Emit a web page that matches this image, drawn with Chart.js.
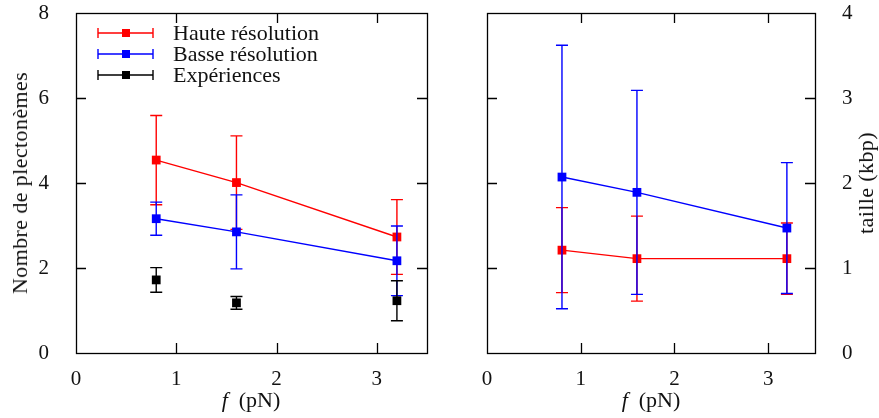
<!DOCTYPE html>
<html><head><meta charset="utf-8">
<script src="https://cdn.jsdelivr.net/npm/chart.js@4/dist/chart.umd.min.js"></script>
<style>
html,body{margin:0;padding:0;background:#fff;}
#wrap{position:relative;width:879px;height:418px;overflow:hidden;font-family:"Liberation Serif",serif;color:#111;}
canvas{position:absolute;top:0;}
.t{position:absolute;font-size:22px;white-space:nowrap;line-height:1;transform:translate(-50%,-50%);}
.r{transform:translate(-50%,-50%) rotate(-90deg);letter-spacing:0.4px;}
</style></head><body>
<div id="wrap">
<canvas id="c1" width="445" height="418" style="left:0;width:445px;height:418px"></canvas>
<canvas id="c2" width="434" height="418" style="left:445px;width:434px;height:418px"></canvas>
<div class="t r" style="left:20px;top:183px">Nombre de plectonèmes</div>
<div class="t" style="left:251px;top:400px"><i>f</i>&nbsp;&nbsp;(pN)</div>
<div class="t" style="left:651px;top:400px"><i>f</i>&nbsp;&nbsp;(pN)</div>
<div class="t r" style="left:866px;top:183px">taille (kbp)</div>
</div>
<script>
// ---- data ----
const forces = [0.8, 1.6, 3.2];
const seriesLabels = ['Haute résolution', 'Basse résolution', 'Expériences'];
// left panel: number of plectonemes
const hauteCount = [4.54, 4.01, 2.73];
const hauteCountErr = [1.05, 1.10, 0.88];
const basseCount = [3.16, 2.85, 2.17];
const basseCountErr = [0.39, 0.87, 0.82];
const expCount = [1.72, 1.18, 1.23];
const expCountErr = [0.29, 0.15, 0.47];
// right panel: size (kbp)
const hauteSize = [1.21, 1.11, 1.11];
const hauteSizeErr = [0.50, 0.50, 0.42];
const basseSize = [2.07, 1.89, 1.47];
const basseSizeErr = [1.55, 1.20, 0.77];
// axis ranges / ticks
const xRange = [0, 3.5];
const countRange = [0, 8];
const sizeRange = [0, 4];

const RED = '#ff0000', BLUE = '#0000ff', BLACK = '#000000';
const FONT = '"Liberation Serif", serif';
const TXT = '#111';

function pts(ys){ return forces.map((x,i)=>({x:x, y:ys[i]})); }
function ds(label, ys, errs, color, order, showLine){
  return {label, data: pts(ys), errors: errs, borderColor: color, backgroundColor: color,
    pointBackgroundColor: color, pointBorderColor: color, pointStyle: 'rect', pointRadius: 6.2,
    pointBorderWidth: 0, borderWidth: 1.4, showLine: showLine, order: order, tension: 0};
}

const errorBars = {
  id: 'errorBars',
  afterDatasetDraw(chart, args){
    const d = chart.data.datasets[args.index];
    if(!d.errors) return;
    const meta = args.meta, ctx = chart.ctx;
    const xs = chart.scales[meta.xAxisID], ys = chart.scales[meta.yAxisID];
    ctx.save();
    ctx.strokeStyle = d.borderColor; ctx.lineWidth = 1.4;
    ctx.beginPath();
    d.data.forEach((p,i)=>{
      const e = d.errors[i];
      const px = xs.getPixelForValue(p.x);
      const y1 = ys.getPixelForValue(p.y + e), y2 = ys.getPixelForValue(p.y - e);
      ctx.moveTo(px, y1); ctx.lineTo(px, y2);
      ctx.moveTo(px-6, y1); ctx.lineTo(px+6, y1);
      ctx.moveTo(px-6, y2); ctx.lineTo(px+6, y2);
    });
    ctx.stroke();
    ctx.restore();
  }
};

const frameTicks = {
  id: 'frameTicks',
  afterDraw(chart){
    const {ctx, chartArea: a, scales} = chart;
    const xs = scales.x, ys = scales.y;
    const L = 10;
    ctx.save();
    ctx.strokeStyle = '#000'; ctx.lineWidth = 1.3;
    ctx.beginPath();
    xs.ticks.forEach(t=>{
      if(t.value <= xs.min || t.value >= xs.max) return;
      const px = Math.round(xs.getPixelForValue(t.value)) + 0.5;
      ctx.moveTo(px, a.bottom); ctx.lineTo(px, a.bottom - L);
      ctx.moveTo(px, a.top); ctx.lineTo(px, a.top + L);
    });
    ys.ticks.forEach(t=>{
      if(t.value <= ys.min || t.value >= ys.max) return;
      const py = Math.round(ys.getPixelForValue(t.value)) + 0.5;
      ctx.moveTo(a.left, py); ctx.lineTo(a.left + L, py);
      ctx.moveTo(a.right, py); ctx.lineTo(a.right - L, py);
    });
    ctx.stroke();
    ctx.strokeRect(Math.round(a.left)+0.5, Math.round(a.top)+0.5, Math.round(a.right-a.left), Math.round(a.bottom-a.top));
    ctx.restore();
  }
};

const customLegend = {
  id: 'customLegend',
  afterDraw(chart){
    const {ctx, chartArea: a} = chart;
    ctx.save();
    ctx.font = '22px ' + FONT;
    ctx.textBaseline = 'middle';
    chart.data.datasets.forEach((d,i)=>{
      const y = a.top + 20 + i*21;
      const x0 = a.left + 22, x1 = a.left + 77, xm = a.left + 50;
      ctx.strokeStyle = d.borderColor; ctx.lineWidth = 1.4;
      ctx.beginPath();
      ctx.moveTo(x0, y); ctx.lineTo(x1, y);
      ctx.moveTo(x0, y-5); ctx.lineTo(x0, y+5);
      ctx.moveTo(x1, y-5); ctx.lineTo(x1, y+5);
      ctx.stroke();
      ctx.fillStyle = d.borderColor;
      ctx.fillRect(xm-4, y-4, 8, 8);
      ctx.fillStyle = TXT;
      ctx.fillText(d.label, a.left + 97, y + 1);
    });
    ctx.restore();
  }
};

function noPad(s){ s.paddingTop = 0; s.paddingBottom = 0; s.paddingLeft = 0; s.paddingRight = 0; }

function xAxis(){
  return {type:'linear', min:xRange[0], max:xRange[1],
    grid:{display:false}, border:{display:false},
    ticks:{stepSize:1, includeBounds:false, color:TXT, padding:6, font:{family:FONT, size:21}, maxRotation:0},
    afterFit(s){ s.height = 65; noPad(s); }};
}

Chart.defaults.animation = false;

new Chart(document.getElementById('c1'), {
  type: 'line',
  data: { datasets: [
    ds(seriesLabels[0], hauteCount, hauteCountErr, RED, 3, true),
    ds(seriesLabels[1], basseCount, basseCountErr, BLUE, 2, true),
    ds(seriesLabels[2], expCount, expCountErr, BLACK, 1, false)
  ]},
  options: {
    responsive:false, devicePixelRatio:1, animation:false,
    layout:{padding:{left:0, top:13, right:18, bottom:0}},
    plugins:{legend:{display:false}, tooltip:{enabled:false}},
    scales:{
      x: xAxis(),
      y: {type:'linear', position:'left', min:countRange[0], max:countRange[1],
        grid:{display:false}, border:{display:false},
        ticks:{stepSize:2, color:TXT, padding:19, font:{family:FONT, size:21}},
        afterFit(s){ s.width = 76; noPad(s); }}
    }
  },
  plugins:[errorBars, frameTicks, customLegend]
});

new Chart(document.getElementById('c2'), {
  type: 'line',
  data: { datasets: [
    ds(seriesLabels[0], hauteSize, hauteSizeErr, RED, 3, true),
    ds(seriesLabels[1], basseSize, basseSizeErr, BLUE, 2, true)
  ]},
  options: {
    responsive:false, devicePixelRatio:1, animation:false,
    layout:{padding:{left:42, top:13, right:0, bottom:0}},
    plugins:{legend:{display:false}, tooltip:{enabled:false}},
    scales:{
      x: xAxis(),
      y: {type:'linear', position:'right', min:sizeRange[0], max:sizeRange[1],
        grid:{display:false}, border:{display:false},
        ticks:{stepSize:1, color:TXT, padding:19, font:{family:FONT, size:21}},
        afterFit(s){ s.width = 64; noPad(s); }}
    }
  },
  plugins:[errorBars, frameTicks]
});
</script>
</body></html>
